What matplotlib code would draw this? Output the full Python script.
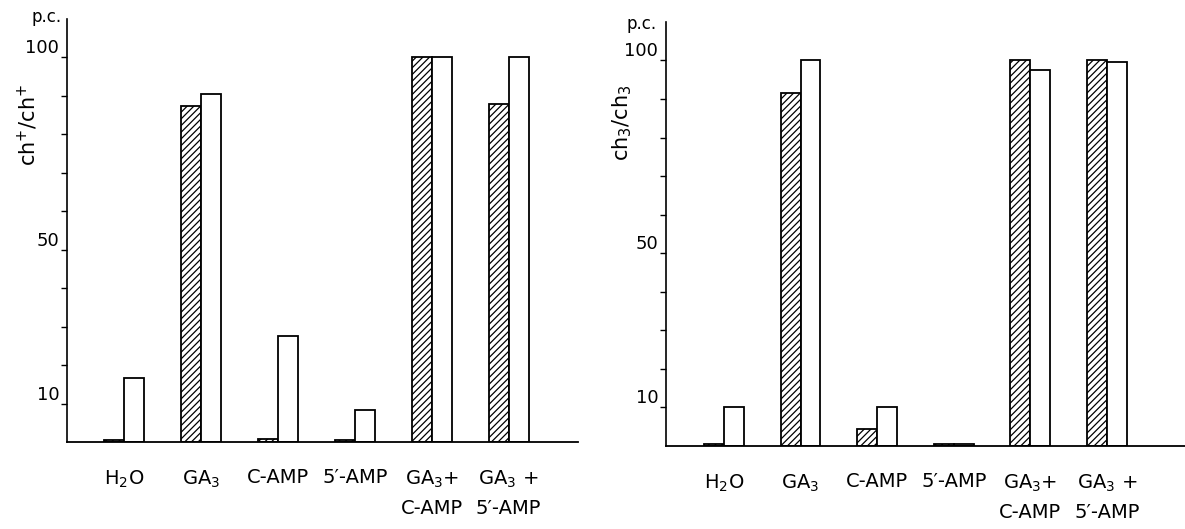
import matplotlib
matplotlib.use("Agg")
import matplotlib.pyplot as plt
import numpy as np

plt.rcParams["font.family"] = "DejaVu Sans"
plt.rcParams["hatch.linewidth"] = 0.9

# categorias (eixo x) para os dois painéis
categorias = ["H$_2$O", "GA$_3$", "C-AMP", "5′-AMP", "GA$_3$+\nC-AMP", "GA$_3$ +\n5′-AMP"]

# painel da esquerda: ch+/ch+
esq_hachurado = [0.5, 87.3, 0.8, 0.6, 100, 88]
esq_branco = [16.7, 90.4, 27.6, 8.2, 100, 100]

# painel da direita: ch3/ch3
dir_hachurado = [0.5, 91.5, 4.5, 0.6, 100, 100]
dir_branco = [10, 100, 10, 0.4, 97.5, 99.5]

y_major = [10, 50, 100]
y_minor = [20, 30, 40, 60, 70, 80, 90]


def desenha_painel(ax, hach, branco, xlim):
    x = np.arange(len(categorias))
    w = 0.26
    ax.bar(x - w / 2, hach, w, color="white", edgecolor="black",
           hatch="/////", linewidth=1.3)
    ax.bar(x + w / 2, branco, w, color="white", edgecolor="black",
           linewidth=1.3)
    ax.set_xlim(*xlim)
    ax.set_ylim(0, 110)
    ax.spines["top"].set_visible(False)
    ax.spines["right"].set_visible(False)
    ax.spines["left"].set_linewidth(1.2)
    ax.spines["bottom"].set_linewidth(1.3)
    ax.set_yticks(y_major)
    ax.set_yticks(y_minor, minor=True)
    ax.set_yticklabels([str(v) for v in y_major], fontsize=13)
    ax.tick_params(axis="y", which="both", direction="out", length=4.5,
                   width=1.0, pad=1)
    for lab in ax.get_yticklabels():
        lab.set_verticalalignment("bottom")
    ax.set_xticks(x)
    ax.set_xticklabels(categorias, fontsize=14, linespacing=1.6)
    ax.tick_params(axis="x", length=0, pad=19)


fig = plt.figure(figsize=(11.85, 5.29), dpi=100)
ax1 = fig.add_axes([0.0565, 0.1645, 0.4312, 0.7996])
ax2 = fig.add_axes([0.562, 0.157, 0.438, 0.8015])

desenha_painel(ax1, esq_hachurado, esq_branco, (-0.74, 5.9))
desenha_painel(ax2, dir_hachurado, dir_branco, (-0.757, 6.02))

fig.text(0.0232, 0.7637, "ch$^{+}$/ch$^{+}$", rotation=90, fontsize=15,
         ha="center", va="center")
fig.text(0.525, 0.769, "ch$_3$/ch$_3$", rotation=90, fontsize=15,
         ha="center", va="center")
fig.text(0.0397, 0.968, "p.c.", fontsize=12, ha="center", va="center")
fig.text(0.5418, 0.955, "p.c.", fontsize=12, ha="center", va="center")

plt.savefig("out.png", dpi=100)
plt.close(fig)
